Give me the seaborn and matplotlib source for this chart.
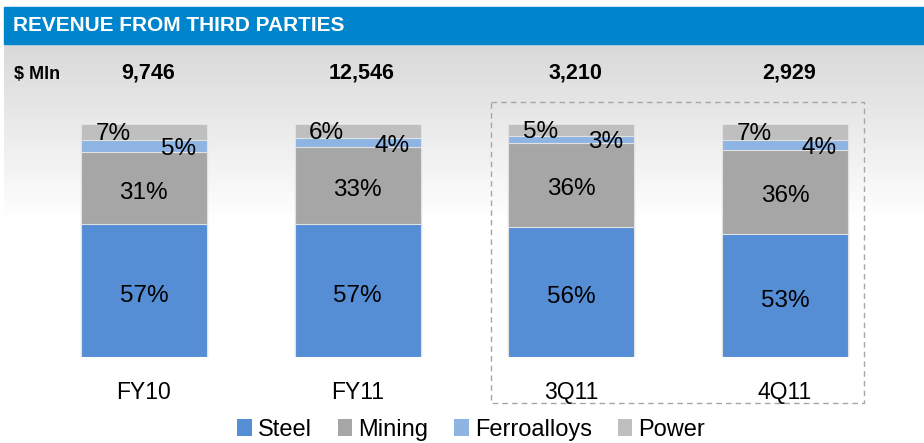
import matplotlib
matplotlib.use("Agg")
import matplotlib.pyplot as plt
import seaborn as sns
import numpy as np
import pandas as pd
from matplotlib.patches import Rectangle, Patch
from matplotlib.colors import LinearSegmentedColormap

categories = ["FY10", "FY11", "3Q11", "4Q11"]
steel = [57, 57, 56, 53]
mining = [31, 33, 36, 36]
ferroalloys = [5, 4, 3, 4]
power = [7, 6, 5, 7]
totals = ["9,746", "12,546", "3,210", "2,929"]
series_names = ["Steel", "Mining", "Ferroalloys", "Power"]
colors = ["#558ED5", "#A6A6A6", "#8EB4E3", "#BFBFBF"]

sns.set_style("white")
plt.rcParams["font.family"] = ["Liberation Sans", "DejaVu Sans"]
plt.rcParams["text.color"] = "black"

W, H = 924, 443
fig = plt.figure(figsize=(W / 100, H / 100), dpi=100)

# background layer in pixel coordinates
bg = fig.add_axes([0, 0, 1, 1])
cmap = LinearSegmentedColormap.from_list("g", ["#D9D9D9", "#FFFFFF"])
grad = np.linspace(0, 1, 256)[:, None]
bg.imshow(grad, extent=(4, W, 220, 45), cmap=cmap, aspect="auto", zorder=0)
bg.add_patch(Rectangle((4, 7), W - 4, 37, color="#0084CC", zorder=1))
bg.set_xlim(0, W)
bg.set_ylim(H, 0)
bg.axis("off")
bg.text(13, 25, "REVENUE FROM THIRD PARTIES", color="white", fontsize=15,
        fontweight="bold", ha="left", va="center", zorder=2)
bg.text(14, 74, "$ Mln", color="black", fontsize=13, fontweight="bold",
        ha="left", va="center", zorder=2)
bg.add_patch(Rectangle((491, 102), 373, 301, fill=False, ec="#A6A6A6",
                       ls=(0, (4, 3)), lw=1.0, zorder=2))

# main chart axes
ax = fig.add_axes([37 / W, (H - 357) / H, 855 / W, 233 / H])
ax.patch.set_alpha(0)

c1 = np.array(steel)
c2 = c1 + np.array(mining)
c3 = c2 + np.array(ferroalloys)
c4 = c3 + np.array(power)
df = pd.DataFrame({"cat": categories, "c1": c1, "c2": c2, "c3": c3, "c4": c4})

for col, color in [("c4", colors[3]), ("c3", colors[2]), ("c2", colors[1]), ("c1", colors[0])]:
    sns.barplot(data=df, x="cat", y=col, order=categories, color=color,
                saturation=1, width=0.59, edgecolor="#E2E2E2", linewidth=0.8, ax=ax)

ax.set_xlim(-0.5, 3.5)
ax.set_ylim(0, 100)
ax.axis("off")

fs = 17.5
for i in range(len(categories)):
    ax.text(i, c1[i] / 2 - 2.3, f"{steel[i]}%", ha="center", va="center", fontsize=fs)
    ax.text(i, c1[i] + mining[i] / 2 - 2.0, f"{mining[i]}%", ha="center", va="center", fontsize=fs)
    ax.text(i - 0.145, c3[i] + power[i] / 2 - 1, f"{power[i]}%", ha="center", va="center", fontsize=fs)
    ax.text(i + 0.16, c2[i] + ferroalloys[i] / 2 - 1.3, f"{ferroalloys[i]}%", ha="center", va="center", fontsize=fs)
    ax.text(i, -15.2, categories[i], ha="center", va="center", fontsize=16.5, clip_on=False)
    ax.text(i + 0.02, 121.9, totals[i], ha="center", va="center", fontsize=15.5,
            fontweight="bold", clip_on=False)

handles = [Patch(facecolor=c, edgecolor="none") for c in colors]
fig.legend(handles, series_names, loc="center", bbox_to_anchor=(471 / W, 1 - 430 / H),
           ncol=4, frameon=False, fontsize=17, handlelength=0.62, handleheight=0.7,
           handletextpad=0.25, columnspacing=1.1, borderaxespad=0, borderpad=0)

fig.savefig("out.png", dpi=100)
